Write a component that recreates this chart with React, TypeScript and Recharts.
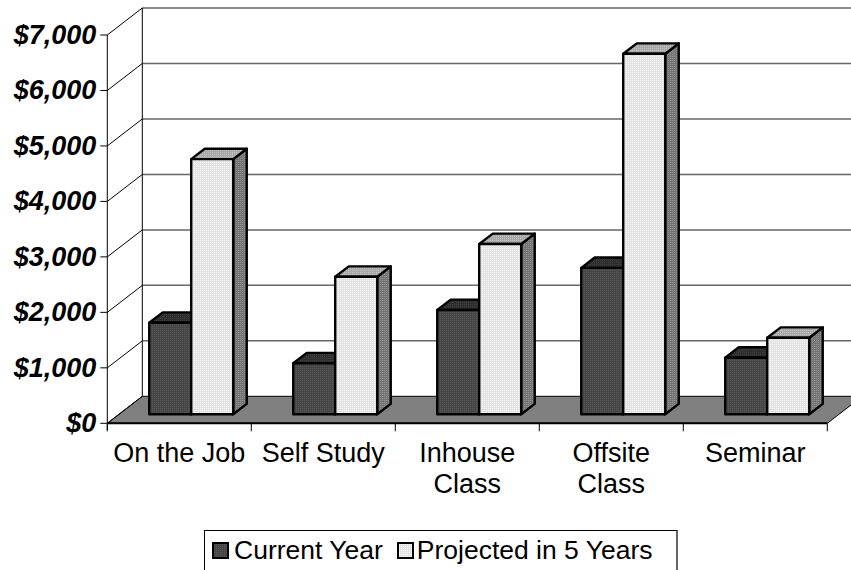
import React from 'react';
import { BarChart, Bar, XAxis, YAxis, CartesianGrid } from 'recharts';

const categories = ['On the Job', 'Self Study', 'Inhouse\nClass', 'Offsite\nClass', 'Seminar'];
const currentYear = [1650, 920, 1880, 2640, 1020];
const projected5 = [4600, 2480, 3070, 6500, 1380];
const yTicks = [0, 1000, 2000, 3000, 4000, 5000, 6000, 7000];
const seriesNames = ['Current Year', 'Projected in 5 Years'];

const data = categories.map((name, i) => ({
  name,
  current: currentYear[i],
  projected: projected5[i],
}));

const W = 851;
const H = 570;
const Y_AXIS_W = 119;
const M_TOP = 26;
const M_RIGHT = 12;
const PLOT_BOTTOM = 414.3;
const X_AXIS_H = H - PLOT_BOTTOM;
const PLOT_LEFT = Y_AXIS_W;
const BAND = (W - M_RIGHT - PLOT_LEFT) / categories.length;

// depth of the floor: bars sit a third of the way back
const FRONT = { dx: -11.7, dy: 9 };
const BACK = { dx: 23.3, dy: -18 };
const BAR_DEPTH = { dx: 13.5, dy: -10.4 };

const FONT = '"Liberation Sans", Arial, sans-serif';

const fmt = (v: number) => `$${v.toLocaleString('en-US')}`;

const makeBox = (front: string, top: string, side: string) => (props: any) => {
  const { x, y, width, height } = props;
  if (!height || height <= 0) return <g />;
  const { dx, dy } = BAR_DEPTH;
  return (
    <g stroke="#000" strokeWidth={2.4} strokeLinejoin="round">
      <polygon points={`${x + width},${y} ${x + width + dx},${y + dy} ${x + width + dx},${y + height + dy} ${x + width},${y + height}`} fill={side} />
      <polygon points={`${x},${y} ${x + dx},${y + dy} ${x + width + dx},${y + dy} ${x + width},${y}`} fill={top} />
      <rect x={x} y={y} width={width} height={height} fill={front} />
    </g>
  );
};

const CurrentBox = makeBox('url(#patDark)', 'url(#patDarkTop)', 'url(#patDark)');
const ProjectedBox = makeBox('url(#patLight)', 'url(#patLightTop)', 'url(#patLightSide)');

const gridLine = (props: any) => {
  const { x1, x2, y1, index } = props;
  const isFloor = Math.abs(y1 - PLOT_BOTTOM) < 1;
  if (isFloor) {
    return (
      <g key={`floor-${index}`}>
        <polygon
          points={`${x1 + FRONT.dx},${y1 + FRONT.dy} ${x2 + FRONT.dx},${y1 + FRONT.dy} ${x2 + BACK.dx},${y1 + BACK.dy} ${x1 + BACK.dx},${y1 + BACK.dy}`}
          fill="#808080"
          stroke="#000"
          strokeWidth={1}
        />
        <line x1={x1 + FRONT.dx} x2={x2 + FRONT.dx} y1={y1 + FRONT.dy} y2={y1 + FRONT.dy} stroke="#000" strokeWidth={2} />
      </g>
    );
  }
  return (
    <line
      key={`grid-${index}`}
      x1={x1 + BACK.dx}
      x2={x2 + BACK.dx}
      y1={y1 + BACK.dy}
      y2={y1 + BACK.dy}
      stroke="#666"
      strokeWidth={1.5}
    />
  );
};

const YTick = (props: any) => {
  const { y, payload } = props;
  const fx = PLOT_LEFT + FRONT.dx;
  const bx = PLOT_LEFT + BACK.dx;
  const top = payload.value === yTicks[yTicks.length - 1];
  return (
    <g>
      <line x1={fx} y1={y + FRONT.dy} x2={bx} y2={y + BACK.dy} stroke="#000" strokeWidth={1} />
      <line x1={fx - 7} y1={y + FRONT.dy} x2={fx} y2={y + FRONT.dy} stroke="#000" strokeWidth={1} />
      {top && (
        <>
          <line x1={fx} y1={y + FRONT.dy} x2={fx} y2={PLOT_BOTTOM + FRONT.dy + 7} stroke="#000" strokeWidth={1} />
          <line x1={bx} y1={y + BACK.dy} x2={bx} y2={PLOT_BOTTOM + BACK.dy} stroke="#000" strokeWidth={1} />
        </>
      )}
      <text
        x={fx - 11}
        y={y + FRONT.dy}
        textAnchor="end"
        dominantBaseline="central"
        fontFamily={FONT}
        fontWeight="bold"
        fontStyle="italic"
        fontSize={27}
        fill="#000"
      >
        {fmt(payload.value)}
      </text>
    </g>
  );
};

const XTick = (props: any) => {
  const { x, payload, index } = props;
  const cx = x + FRONT.dx;
  const fy = PLOT_BOTTOM + FRONT.dy;
  const lines = String(payload.value).split('\n');
  const last = index === categories.length - 1;
  return (
    <g>
      <line x1={cx - BAND / 2} x2={cx - BAND / 2} y1={fy} y2={fy + 8} stroke="#000" strokeWidth={1} />
      {last && <line x1={cx + BAND / 2} x2={cx + BAND / 2} y1={fy} y2={fy + 8} stroke="#000" strokeWidth={1} />}
      {lines.map((ln, i) => (
        <text key={i} x={cx} y={PLOT_BOTTOM + 47.4 + i * 31.3} textAnchor="middle" fontFamily={FONT} fontSize={27} fill="#000">
          {ln}
        </text>
      ))}
    </g>
  );
};

const legendSwatch = (fill: string) => (
  <svg width={17} height={17} style={{ display: 'block' }}>
    <rect x={1} y={1} width={15} height={15} fill={fill} stroke="#000" strokeWidth={2} />
  </svg>
);

export default function App() {
  return (
    <div style={{ position: 'absolute', left: 0, top: 0, width: W, height: H, overflow: 'hidden', background: '#fff' }}>
      <BarChart
        width={W}
        height={H}
        data={data}
        margin={{ top: M_TOP, right: M_RIGHT, bottom: 0, left: 0 }}
        barCategoryGap="21%"
        barGap={0}
      >
        <defs>
          <pattern id="patDark" width={2} height={2} patternUnits="userSpaceOnUse">
            <rect width={2} height={2} fill="#454545" />
            <rect width={1} height={1} fill="#5a5a5a" />
          </pattern>
          <pattern id="patDarkTop" width={2} height={2} patternUnits="userSpaceOnUse">
            <rect width={2} height={2} fill="#2e2e2e" />
            <rect width={1} height={1} fill="#404040" />
          </pattern>
          <pattern id="patLight" width={2} height={2} patternUnits="userSpaceOnUse">
            <rect width={2} height={2} fill="#e2e2e2" />
            <rect width={1} height={1} fill="#f8f8f8" />
          </pattern>
          <pattern id="patLightTop" width={2} height={2} patternUnits="userSpaceOnUse">
            <rect width={2} height={2} fill="#a8a8a8" />
            <rect width={1} height={1} fill="#c4c4c4" />
          </pattern>
          <pattern id="patLightSide" width={2} height={2} patternUnits="userSpaceOnUse">
            <rect width={2} height={2} fill="#747474" />
            <rect width={1} height={1} fill="#949494" />
          </pattern>
        </defs>
        <CartesianGrid vertical={false} horizontal={gridLine} />
        <XAxis dataKey="name" height={X_AXIS_H} axisLine={false} tickLine={false} tick={XTick} interval={0} />
        <YAxis
          width={Y_AXIS_W}
          domain={[0, 7000]}
          ticks={yTicks}
          axisLine={false}
          tickLine={false}
          tick={YTick}
          interval={0}
        />
        <Bar dataKey="current" name={seriesNames[0]} shape={CurrentBox} isAnimationActive={false} />
        <Bar dataKey="projected" name={seriesNames[1]} shape={ProjectedBox} isAnimationActive={false} />
      </BarChart>
      <div
        style={{
          position: 'absolute',
          left: 204,
          top: 530,
          width: 474,
          height: 60,
          borderTop: '1px solid #000',
          borderLeft: '1px solid #000',
          borderRight: '2px solid #666',
          display: 'flex',
          alignItems: 'flex-start',
          paddingTop: 6,
          boxSizing: 'border-box',
          fontFamily: FONT,
          fontSize: 26.5,
          color: '#000',
        }}
      >
        <div style={{ display: 'flex', alignItems: 'center', marginLeft: 7 }}>
          {legendSwatch('url(#patDark)')}
          <span style={{ marginLeft: 5, lineHeight: '26px' }}>{seriesNames[0]}</span>
        </div>
        <div style={{ display: 'flex', alignItems: 'center', marginLeft: 14 }}>
          {legendSwatch('url(#patLight)')}
          <span style={{ marginLeft: 3, lineHeight: '26px' }}>{seriesNames[1]}</span>
        </div>
      </div>
    </div>
  );
}
